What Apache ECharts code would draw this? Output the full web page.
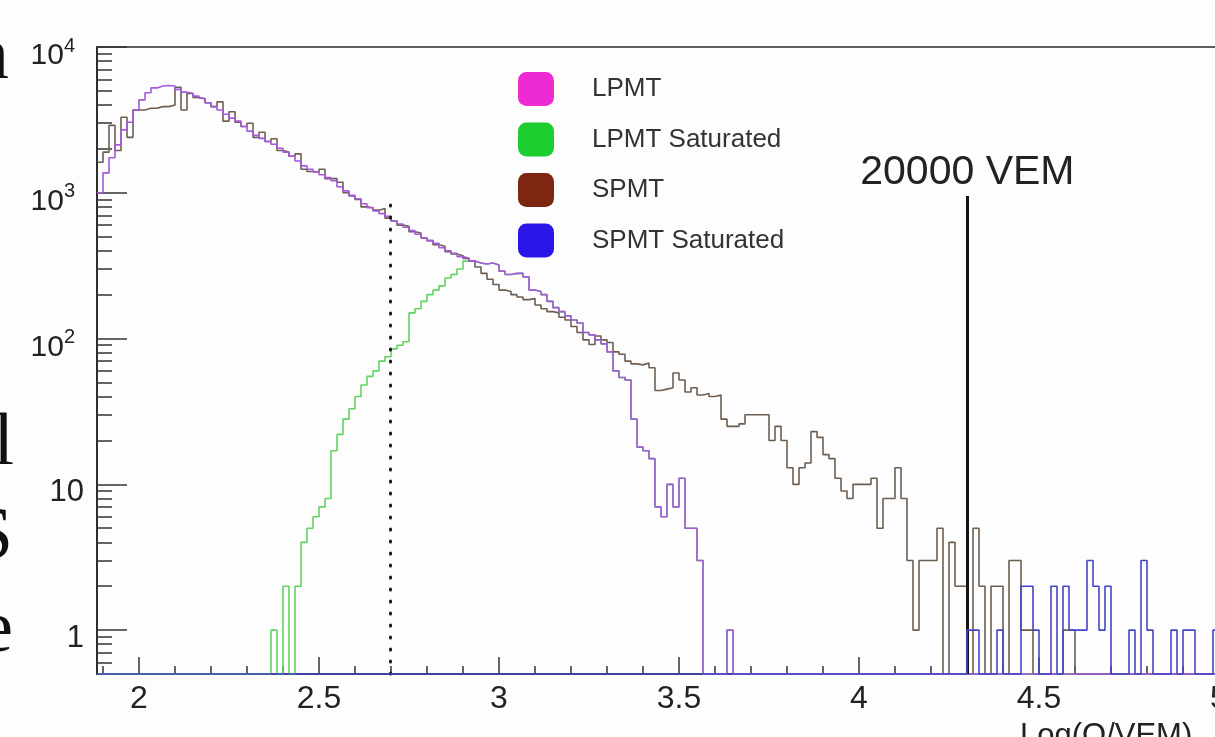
<!DOCTYPE html>
<html>
<head>
<meta charset="utf-8">
<script src="https://cdn.jsdelivr.net/npm/echarts@6/dist/echarts.min.js"></script>
<style>
html,body{margin:0;padding:0;background:#fdfdfd;}
#chart{width:1215px;height:737px;}
</style>
</head>
<body>
<div id="chart"></div>
<script>
// ---------------- data ----------------
const BIN_START = 113 / 60;   // first bin edge (log10 units)
const BIN_WIDTH = 1 / 60;     // bin width (log10 units)
const X_MAX = 5.0;
const Y_MIN = 0.5, Y_MAX = 10000;

const xTickValues = [2, 2.5, 3, 3.5, 4, 4.5, 5];
const xTickLabels = ['2', '2.5', '3', '3.5', '4', '4.5', '5'];
const xMinorTicks = [1.9, 2.1, 2.2, 2.3, 2.4, 2.6, 2.7, 2.8, 2.9, 3.1, 3.2, 3.3, 3.4,
  3.6, 3.7, 3.8, 3.9, 4.1, 4.2, 4.3, 4.4, 4.6, 4.7, 4.8, 4.9];
const yTickValues = [1, 10, 100, 1000, 10000];
const yTickLabels = ['1', '10', '10^2', '10^3', '10^4'];
const yMinorTicks = [0.5, 0.6, 0.7, 0.8, 0.9, 2, 3, 4, 5, 6, 7, 8, 9,
  20, 30, 40, 50, 60, 70, 80, 90, 200, 300, 400, 500, 600, 700, 800, 900,
  2000, 3000, 4000, 5000, 6000, 7000, 8000, 9000];

const seriesNames = ['LPMT', 'LPMT Saturated', 'SPMT', 'SPMT Saturated'];

// LPMT counts per bin
const lpmt = [
  1000,1370,1740,2130,2700,3050,3700,4340,4850,5240,
  5400,5450,5400,5120,4900,4800,4600,4450,4150,3900,
  3700,3460,3250,3100,2850,2650,2480,2360,2250,2150,
  2020,1900,1780,1650,1530,1450,1390,1330,1270,1210,
  1100,1030,960,910,840,790,750,720,690,640,
  610,580,550,520,490,470,450,420,400,385,
  365,355,340,330,325,330,320,290,275,280,
  280,265,215,210,200,180,163,153,143,134,
  128,110,106,98,92,81,60,54,52,28,
  18,17,15,7,6,10,7,11,5,5,
  3,0,0,0,0,1,0,0,0,0,
  0,0,0,0,0,0,0,0,0,0,
  0,0,0,0,0,0,0,0,0,0,
  0,0,0,0,0,0,0,0,0,0,
  0,0,0,0,0,0,0,0,0,0,
  0,0,0,0,0,0,0,0,0,0,
  0,0,0,0,0,0,0,0,0,0,
  0,0,0,0,0,0,0,0,0,0,
  0,0,0,0,0,0,0
];

// LPMT Saturated counts per bin
const lpmtSat = [
  0,0,0,0,0,0,0,0,0,0,
  0,0,0,0,0,0,0,0,0,0,
  0,0,0,0,0,0,0,0,0,1,
  0,2,0,2,4,5,6,7,8,17,
  22,28,33,40,48,55,60,70,75,85,
  90,95,150,160,180,200,215,230,260,275,
  300,340,340,330,325,330,320,290,275,280,
  280,265,215,210,200,180,163,153,143,134,
  128,110,106,98,92,81,60,54,52,28,
  18,17,15,7,6,10,7,11,5,5,
  3,0,0,0,0,1,0,0,0,0,
  0,0,0,0,0,0,0,0,0,0,
  0,0,0,0,0,0,0,0,0,0,
  0,0,0,0,0,0,0,0,0,0,
  0,0,0,0,0,0,0,0,0,0,
  0,0,0,0,0,0,0,0,0,0,
  0,0,0,0,0,0,0,0,0,0,
  0,0,0,0,0,0,0,0,0,0,
  0,0,0,0,0,0,0
];

// SPMT counts per bin
const spmt = [
  1620,1900,2900,1950,3300,2400,3700,3700,3800,3800,
  3900,3900,4000,5300,3700,4800,4500,4400,4150,3900,
  4200,3100,3600,3050,2850,3000,2400,2600,2250,2350,
  1950,1900,1780,1850,1450,1400,1390,1450,1250,1250,
  1180,1000,950,900,800,790,760,780,670,640,
  600,590,540,530,490,470,440,430,395,380,
  370,355,340,310,280,255,235,215,210,200,
  193,185,188,170,160,153,150,140,134,121,
  110,98,91,104,98,94,81,78,70,67,
  66,68,63,44,45,46,58,52,43,46,
  41,42,40,41,28,25,25,26,30,30,
  30,30,20,25,20,13,10,13,14,23,
  21,16,15,11,9,8,10,10,10,11,
  5,8,8,13,8,3,1,3,3,3,
  5,0,4,2,2,0,5,2,0,2,
  2,0,3,3,1,1,0,0,0,0,
  0,1,1,0,0,0,0,0,0,0,
  0,0,0,0,0,0,0,0,0,0,
  0,0,0,0,0,0,0
];

// SPMT Saturated counts per bin
const spmtSat = [
  0,0,0,0,0,0,0,0,0,0,
  0,0,0,0,0,0,0,0,0,0,
  0,0,0,0,0,0,0,0,0,0,
  0,0,0,0,0,0,0,0,0,0,
  0,0,0,0,0,0,0,0,0,0,
  0,0,0,0,0,0,0,0,0,0,
  0,0,0,0,0,0,0,0,0,0,
  0,0,0,0,0,0,0,0,0,0,
  0,0,0,0,0,0,0,0,0,0,
  0,0,0,0,0,0,0,0,0,0,
  0,0,0,0,0,0,0,0,0,0,
  0,0,0,0,0,0,0,0,0,0,
  0,0,0,0,0,0,0,0,0,0,
  0,0,0,0,0,0,0,0,0,0,
  0,0,0,0,0,1,1,0,0,0,
  1,0,0,0,2,2,1,0,0,2,
  0,2,1,1,1,3,2,1,2,0,
  0,0,1,0,3,1,0,0,0,1,
  0,1,1,0,0,0,1
];

const vemLine = { x: Math.log10(20000), top: 950, label: '20000 VEM' };
const cutLine = { x: Math.log10(500), top: 950 };
const xAxisTitle = 'Log(Q/VEM)';

// ---------------- styles ----------------
const legendColors = ['#ee2ad2', '#1dcc2e', '#7d2612', '#2a16e6'];
const lineColors   = ['#a45adb', '#62d462', '#6e5e4f', '#4545c8'];
const FONT = 'Liberation Sans';

function histPoints(vals) {
  const pts = vals.map((v, i) => [BIN_START + i * BIN_WIDTH, v > 0 ? v : Y_MIN]);
  pts.push([X_MAX, pts[pts.length - 1][1]]);
  return pts;
}
function histSeries(name, vals, colorIdx, z, extra) {
  return Object.assign({
    name: name, type: 'line', step: 'end', data: histPoints(vals),
    symbol: 'none', showSymbol: false, clip: false, z: z,
    lineStyle: { color: lineColors[colorIdx], width: 1.6 },
    itemStyle: { color: legendColors[colorIdx] },
    emphasis: { disabled: true }, animation: false
  }, extra || {});
}

const chart = echarts.init(document.getElementById('chart'), null, { renderer: 'canvas' });

const option = {
  backgroundColor: '#fdfdfd',
  animation: false,
  textStyle: { fontFamily: FONT },
  grid: { left: 97, right: -4, top: 47, bottom: 63, show: true, borderColor: '#2a2a2a', borderWidth: 1.6,
          backgroundColor: 'transparent', containLabel: false, outerBoundsMode: 'none' },
  legend: {
    orient: 'vertical', left: 513, top: 67, itemWidth: 36, itemHeight: 34, itemGap: 16.5,
    icon: 'roundRect', selectedMode: false,
    textStyle: { fontSize: 26, color: '#333', fontFamily: FONT, padding: [0, 0, 0, 33] },
    data: seriesNames.map((n, i) => ({ name: n, itemStyle: { color: legendColors[i], borderWidth: 0 } }))
  },
  xAxis: [{
    type: 'value', min: BIN_START, max: X_MAX, position: 'bottom',
    axisLine: { show: true, lineStyle: { color: '#2a2a2a', width: 1.6 } },
    axisTick: { show: true, inside: true, length: 17, customValues: xTickValues, lineStyle: { color: '#333', width: 1.5 } },
    axisLabel: { show: true, customValues: xTickValues, margin: 9, fontSize: 32, color: '#222', fontFamily: FONT,
      formatter: v => { const k = xTickValues.findIndex(t => Math.abs(t - v) < 1e-6); return k >= 0 ? xTickLabels[k] : ''; } },
    splitLine: { show: false }
  }, {
    type: 'value', min: BIN_START, max: X_MAX, position: 'bottom',
    axisLine: { show: false },
    axisTick: { show: true, inside: true, length: 8, customValues: xMinorTicks, lineStyle: { color: '#333', width: 1.5 } },
    axisLabel: { show: false }, splitLine: { show: false }
  }],
  yAxis: [{
    type: 'log', logBase: 10, min: Y_MIN, max: Y_MAX, position: 'left',
    axisLine: { show: true, lineStyle: { color: '#2a2a2a', width: 1.8 } },
    axisTick: { show: true, inside: true, length: 30, customValues: yTickValues, lineStyle: { color: '#333', width: 1.5 } },
    axisLabel: {
      show: true, customValues: yTickValues, margin: 13, color: '#222', fontFamily: FONT,
      formatter: v => {
        const k = yTickValues.findIndex(t => Math.abs(Math.log10(t) - Math.log10(v)) < 1e-6);
        if (k < 0) return '';
        const s = yTickLabels[k];
        if (s.indexOf('^') >= 0) { const p = s.split('^'); return '{b|' + p[0] + '}{s|' + p[1] + '}'; }
        return '{p|' + s + '}';
      },
      rich: {
        b: { fontSize: 30, lineHeight: 10, verticalAlign: 'bottom', color: '#222', fontFamily: FONT },
        p: { fontSize: 31, lineHeight: 48, verticalAlign: 'bottom', color: '#222', fontFamily: FONT },
        s: { fontSize: 20, lineHeight: 48, verticalAlign: 'top', color: '#222', fontFamily: FONT, padding: [13, 9, 0, 0] }
      }
    },
    splitLine: { show: false }
  }, {
    type: 'log', logBase: 10, min: Y_MIN, max: Y_MAX, position: 'left',
    axisLine: { show: false },
    axisTick: { show: true, inside: true, length: 15, customValues: yMinorTicks, lineStyle: { color: '#333', width: 1.5 } },
    axisLabel: { show: false }, splitLine: { show: false }
  }],
  series: [
    histSeries(seriesNames[1], lpmtSat, 1, 2),
    histSeries(seriesNames[2], spmt, 2, 3),
    histSeries(seriesNames[0], lpmt, 0, 4),
    histSeries(seriesNames[3], spmtSat, 3, 5, {
      markLine: {
        silent: true, symbol: ['none', 'none'], animation: false,
        data: [
          [{ coord: [vemLine.x, Y_MIN],
             lineStyle: { color: '#151515', width: 3, type: 'solid' },
             label: { show: true, position: 'end', formatter: vemLine.label, fontSize: 41, color: '#222', fontFamily: FONT, distance: 3 } },
           { coord: [vemLine.x, vemLine.top] }],
          [{ coord: [cutLine.x, Y_MIN],
             lineStyle: { color: '#151515', width: 3, type: [1, 11], cap: 'round' },
             label: { show: false } },
           { coord: [cutLine.x, cutLine.top] }]
        ]
      }
    })
  ],
  graphic: [
    { type: 'text', x: 1020, y: 721, silent: true,
      style: { text: xAxisTitle, fontSize: 31, fontFamily: FONT, fill: '#222', align: 'left', verticalAlign: 'top' } },
    { type: 'text', x: 9, y: 96, silent: true,
      style: { text: 'n', fontSize: 75, fontFamily: 'Liberation Serif', fill: '#111', align: 'right', verticalAlign: 'bottom' } },
    { type: 'text', x: 14, y: 482, silent: true,
      style: { text: 'l', fontSize: 75, fontFamily: 'Liberation Serif', fill: '#111', align: 'right', verticalAlign: 'bottom' } },
    { type: 'text', x: 13, y: 576, silent: true,
      style: { text: 'S', fontSize: 75, fontFamily: 'Liberation Serif', fill: '#111', align: 'right', verticalAlign: 'bottom' } },
    { type: 'text', x: 13, y: 669, silent: true,
      style: { text: 'e', fontSize: 75, fontFamily: 'Liberation Serif', fill: '#111', align: 'right', verticalAlign: 'bottom' } }
  ]
};
chart.setOption(option);
</script>
</body>
</html>
